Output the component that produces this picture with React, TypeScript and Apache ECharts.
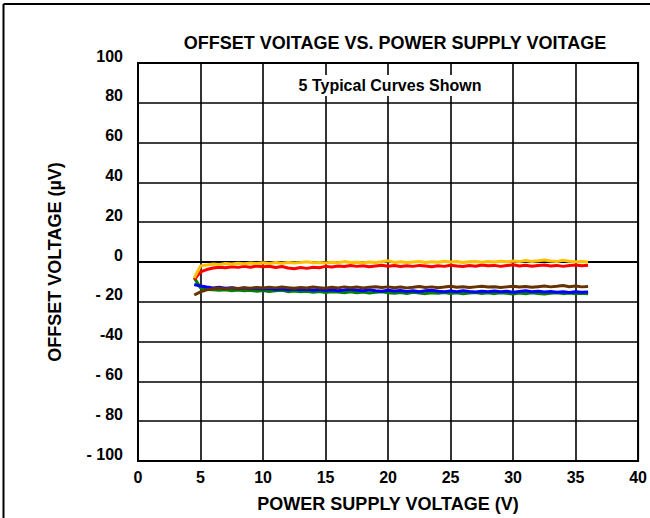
import React, { useEffect, useRef } from "react";
import * as echarts from "echarts";

const FONT = "'Liberation Sans Narrow', 'Arial Narrow', 'Liberation Sans', Arial, sans-serif";

const titleText = "OFFSET VOITAGE VS. POWER SUPPLY VOITAGE";
const xAxisName = "POWER SUPPLY VOLTAGE (V)";
const yAxisName = "OFFSET VOLTAGE (µV)";
const noteText = "5 Typical Curves Shown";

const yTickValues = [100, 80, 60, 40, 20, 0, -20, -40, -60, -80, -100];
const yTickLabels = ["100", "80", "60", "40", "20", "0", "- 20", "-40", "- 60", "- 80", "- 100"];

// supply voltages 4.5 V .. 36 V in 0.5 V steps
const supplyV: number[] = [
  4.5, 5, 5.5, 6, 6.5, 7, 7.5, 8,
  8.5, 9, 9.5, 10, 10.5, 11, 11.5, 12,
  12.5, 13, 13.5, 14, 14.5, 15, 15.5, 16,
  16.5, 17, 17.5, 18, 18.5, 19, 19.5, 20,
  20.5, 21, 21.5, 22, 22.5, 23, 23.5, 24,
  24.5, 25, 25.5, 26, 26.5, 27, 27.5, 28,
  28.5, 29, 29.5, 30, 30.5, 31, 31.5, 32,
  32.5, 33, 33.5, 34, 34.5, 35, 35.5, 36,
];

const yellowCurve = [
  -8, -2.0, -1.5, -1.0, -1.2, -0.8, -1.0, -0.6,
  -0.9, -0.5, -0.8, -0.4, -0.7, -0.3, -0.6, -0.2,
  -0.5, -0.3, 0.1, -0.4, -0.2, -0.5, -0.1, -0.4,
  0.2, -0.3, -0.1, -0.4, 0.0, -0.3, 0.1, 0.6,
  -0.2, 0.1, -0.3, 0.0, 0.3, -0.2, 0.1, -0.1,
  0.4, 0.0, 0.2, -0.2, 0.1, 0.3, -0.1, 0.2,
  0.0, 0.4, 0.1, 0.5, 0.2, 0.8, 0.3, 0.6,
  1.0, 0.5, 0.2, 0.9, 0.4, 0.1, 0.3, 0.0,
];

const redCurve = [
  -8.8, -5.0, -3.8, -3.0, -2.6, -2.9, -2.4, -2.7,
  -2.2, -2.6, -2.0, -2.4, -2.1, -2.8, -2.3, -3.0,
  -3.4, -2.8, -3.2, -2.6, -2.9, -2.2, -2.5, -2.0,
  -2.3, -1.8, -2.2, -1.9, -2.4, -2.0, -1.6, -2.1,
  -1.8, -2.3, -1.9, -2.2, -1.7, -2.0, -2.4, -1.9,
  -2.2, -1.6, -2.0, -2.3, -1.8, -2.1, -1.5, -1.9,
  -1.7, -2.2, -1.8, -1.4, -2.0, -1.6, -2.1, -1.8,
  -1.5, -2.0, -1.7, -2.2, -1.8, -1.5, -1.9, -1.6,
];

const greenCurve = [
  -8.0, -13.0, -13.8, -14.0, -14.2, -13.9, -14.4, -14.1,
  -14.5, -14.2, -14.7, -14.3, -14.8, -14.5, -14.2, -14.9,
  -14.6, -15.0, -14.7, -15.2, -14.8, -15.3, -14.9, -15.1,
  -15.4, -15.0, -15.5, -15.1, -15.6, -15.2, -14.9, -15.4,
  -15.7, -15.3, -15.8, -15.2, -15.6, -15.9, -15.4, -15.7,
  -15.3, -15.8, -15.5, -16.0, -15.6, -15.3, -15.8, -15.5,
  -15.9, -15.4, -15.7, -16.1, -15.6, -15.9, -15.5, -15.8,
  -16.1, -15.7, -15.4, -15.9, -15.6, -16.0, -15.7, -15.9,
];

const blueCurve = [
  -11.3, -12.1, -12.6, -13.0, -12.7, -13.2, -12.9, -13.4,
  -13.1, -13.5, -13.2, -13.6, -13.3, -13.8, -13.5, -13.9,
  -13.6, -14.0, -13.7, -14.2, -13.8, -14.3, -13.9, -14.4,
  -14.1, -13.7, -14.2, -14.5, -14.0, -14.4, -14.7, -14.2,
  -14.6, -14.3, -14.8, -14.4, -14.9, -14.5, -14.2, -14.7,
  -15.0, -14.6, -14.9, -14.4, -14.8, -15.1, -14.7, -15.0,
  -14.6, -15.0, -14.7, -15.2, -14.8, -14.5, -15.0, -14.7,
  -15.1, -14.8, -15.2, -14.9, -15.3, -15.0, -15.2, -15.1,
];

const brownCurve = [
  -16.6, -15.0, -14.0, -13.4, -13.1, -13.5, -13.0, -13.3,
  -12.9, -13.2, -12.8, -13.1, -12.7, -13.0, -12.6, -12.9,
  -13.2, -12.8, -13.1, -12.6, -12.9, -13.2, -12.7, -13.0,
  -12.5, -12.9, -12.6, -13.0, -12.7, -12.4, -12.8, -12.5,
  -12.9, -12.6, -13.0, -12.7, -12.3, -12.8, -12.5, -12.9,
  -12.6, -12.2, -12.7, -12.4, -12.8, -12.5, -12.2, -12.6,
  -12.4, -12.8, -12.5, -12.2, -12.6, -12.3, -12.7, -12.4,
  -12.1, -12.5, -12.2, -11.8, -12.4, -12.1, -12.5, -12.3,
];

const curves = [
  { name: "green", color: "#008000", values: greenCurve },
  { name: "blue", color: "#0000FF", values: blueCurve },
  { name: "brown", color: "#663300", values: brownCurve },
  { name: "red", color: "#FF0000", values: redCurve },
  { name: "yellow", color: "#FFC000", values: yellowCurve },
];

export default function App() {
  const ref = useRef<HTMLDivElement>(null);
  useEffect(() => {
    if (!ref.current) return;
    const chart = echarts.init(ref.current, null, { renderer: "svg" });
    const labelStyle = { fontFamily: FONT, fontWeight: "bold" as const, fontSize: 16, color: "#000" };
    chart.setOption({
      animation: false,
      backgroundColor: "#fff",
      title: {
        text: titleText,
        left: 390,
        top: 29,
        textAlign: "center",
        textStyle: { fontFamily: FONT, fontWeight: "bold", fontSize: 18, color: "#000" },
      },
      grid: {
        left: 138,
        right: 6,
        top: 63,
        bottom: 53,
        show: true,
        borderColor: "#000",
        borderWidth: 2,
        backgroundColor: "transparent",
      },
      xAxis: {
        type: "value",
        min: 0,
        max: 40,
        interval: 5,
        name: xAxisName,
        nameLocation: "middle",
        nameGap: 34,
        nameTextStyle: { ...labelStyle, fontSize: 18 },
        axisLine: { show: true, lineStyle: { color: "#000", width: 2 } },
        axisTick: { show: false },
        axisLabel: { ...labelStyle, margin: 8 },
        splitLine: { show: true, lineStyle: { color: "#000", width: 1.6 } },
      },
      yAxis: {
        type: "value",
        min: -100,
        max: 100,
        interval: 20,
        name: yAxisName,
        nameLocation: "middle",
        nameGap: 74,
        nameTextStyle: { ...labelStyle, fontSize: 18 },
        axisLine: { show: true, lineStyle: { color: "#000", width: 2 } },
        axisTick: { show: false },
        axisLabel: {
          ...labelStyle,
          margin: 15,
          verticalAlign: "bottom",
          lineHeight: 14,
          formatter: (v: number) => {
            const i = yTickValues.indexOf(v);
            return i >= 0 ? yTickLabels[i] : String(v);
          },
        },
        splitLine: { show: true, lineStyle: { color: "#000", width: 1.6 } },
      },
      graphic: [
        {
          type: "line",
          z: 100,
          shape: { x1: 3.5, y1: 4, x2: 650, y2: 4 },
          style: { stroke: "#000", lineWidth: 2 },
        },
        {
          type: "line",
          z: 100,
          shape: { x1: 3.5, y1: 4, x2: 3.5, y2: 518 },
          style: { stroke: "#000", lineWidth: 2 },
        },
        {
          type: "rect",
          z: 100,
          shape: { x: 270, y: 75, width: 240, height: 21 },
          style: { fill: "#fff" },
        },
        {
          type: "text",
          z: 101,
          x: 390,
          y: 85,
          style: {
            text: noteText,
            fontFamily: FONT,
            fontWeight: "bold",
            fontSize: 16,
            fill: "#000",
            align: "center",
            verticalAlign: "middle",
          },
        },
      ],
      series: curves.map((c) => ({
        name: c.name,
        type: "line",
        showSymbol: false,
        symbol: "none",
        data: supplyV.map((x, i) => [x, c.values[i]]),
        lineStyle: { color: c.color, width: 3 },
        itemStyle: { color: c.color },
        z: 10,
      })),
    });
    return () => chart.dispose();
  }, []);
  return (
    <div
      ref={ref}
      style={{ position: "fixed", left: 0, top: 0, width: 650, height: 518, background: "#fff" }}
    />
  );
}
